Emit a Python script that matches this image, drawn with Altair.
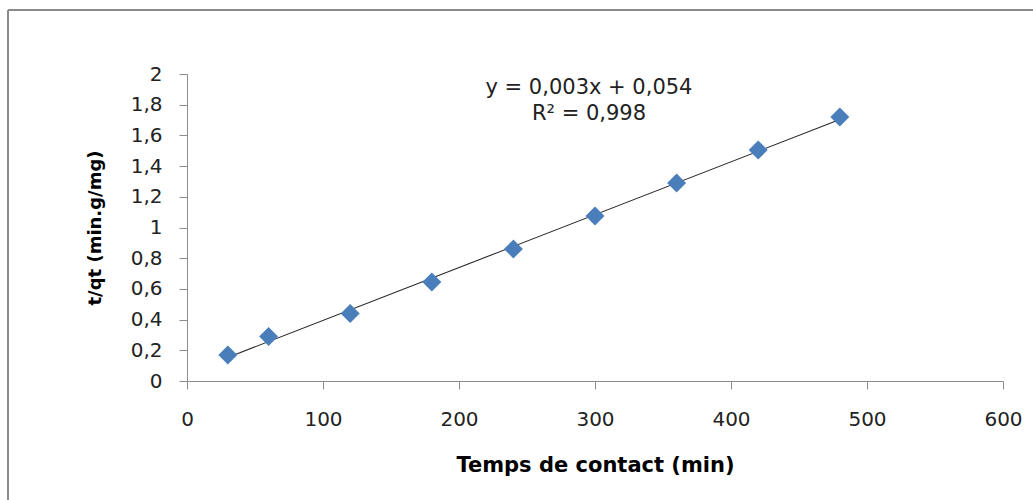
import altair as alt
import pandas as pd

time_min = [30, 60, 120, 180, 240, 300, 360, 420, 480]
t_over_qt = [0.17, 0.29, 0.44, 0.645, 0.86, 1.075, 1.29, 1.505, 1.72]
equation_lines = ["y = 0,003x + 0,054", "R² = 0,998"]

df = pd.DataFrame({"t": time_min, "tq": t_over_qt})
FONT = "DejaVu Sans"
AXIS_GREY = "#8c8c8c"

x = alt.X("t:Q", title="Temps de contact (min)",
          scale=alt.Scale(domain=[0, 600], nice=False),
          axis=alt.Axis(values=[0, 100, 200, 300, 400, 500, 600], grid=False,
                        domainColor=AXIS_GREY, tickColor=AXIS_GREY, tickSize=8,
                        labelPadding=20, titlePadding=25, labelFontSize=20,
                        titleFontSize=21, labelFont=FONT, titleFont=FONT,
                        labelColor="#222222", titleColor="#000000",
                        titleFontWeight="bold", labelFlush=False,
                        labelOverlap=False))
y = alt.Y("tq:Q", title="t/qt (min.g/mg)",
          scale=alt.Scale(domain=[0, 2], nice=False),
          axis=alt.Axis(values=[0, 0.2, 0.4, 0.6, 0.8, 1, 1.2, 1.4, 1.6, 1.8, 2],
                        grid=False, domainColor=AXIS_GREY, tickColor=AXIS_GREY,
                        tickSize=8, labelPadding=17, titlePadding=26,
                        labelFontSize=20, titleFontSize=18, labelFont=FONT,
                        titleFont=FONT, labelColor="#222222", titleColor="#000000",
                        titleFontWeight="bold", labelOverlap=False,
                        labelExpr="replace(format(datum.value, '~g'), '.', ',')"))

points = alt.Chart(df).mark_point(shape="diamond", filled=True, opacity=1,
                                  color="#4a7ebb", size=360).encode(x=x, y=y)

trend = alt.Chart(df).transform_regression("t", "tq").mark_line(
    color="#262626", strokeWidth=1.1).encode(x=x, y=y)

eq_df = pd.DataFrame({"line": [equation_lines[0]]})
r2_df = pd.DataFrame({"line": [equation_lines[1]]})
eq = alt.Chart(eq_df).mark_text(font=FONT, fontSize=21, color="#222222",
                                align="center", baseline="middle").encode(
    text="line:N", x=alt.value(402), y=alt.value(14))
r2 = alt.Chart(r2_df).mark_text(font=FONT, fontSize=21, color="#222222",
                                align="center", baseline="middle").encode(
    text="line:N", x=alt.value(402), y=alt.value(40))

frame_v = alt.Chart(eq_df).mark_rule(color="#8a8a8a", strokeWidth=2).encode(
    x=alt.value(-179), y=alt.value(-64), y2=alt.value(440))
frame_h = alt.Chart(eq_df).mark_rule(color="#8a8a8a", strokeWidth=2).encode(
    x=alt.value(-179), x2=alt.value(860), y=alt.value(-64))

chart = alt.layer(frame_v, frame_h, trend, points, eq, r2).properties(
    width=816, height=307,
    autosize=alt.AutoSizeParams(type="none"),
    padding={"left": 187, "top": 74, "right": 30, "bottom": 119},
    background="white",
).configure_view(stroke=None)

chart.save("out.html", embed_options={"renderer": "svg", "actions": False})
